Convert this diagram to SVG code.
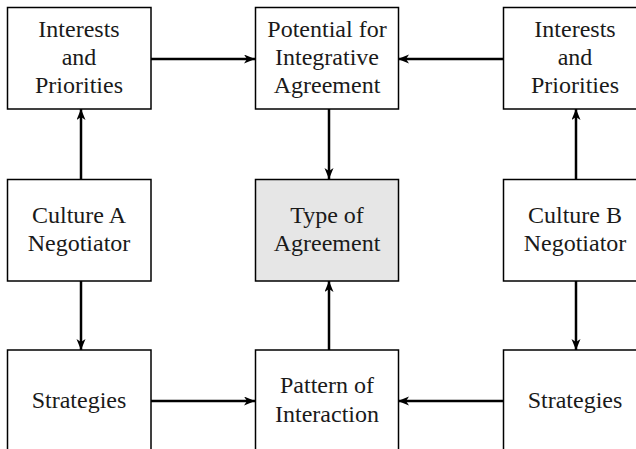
<svg xmlns="http://www.w3.org/2000/svg" width="636" height="449" viewBox="0 0 636 449">
<style>
.box{fill:#fff;stroke:#000;stroke-width:1.5}
.gray{fill:#e6e6e6}
.lbl{font-family:"Liberation Serif","Times New Roman",serif;font-size:24px;fill:#1a1a1a;text-anchor:middle}
.con{stroke:#000;stroke-width:2.5;fill:none;marker-end:url(#ah)}
</style>
<defs>
<marker id="ah" markerUnits="userSpaceOnUse" markerWidth="12" markerHeight="10" refX="11" refY="4.5" orient="auto">
<path d="M0,0 L11,4.5 L0,9 L3,4.5 z" fill="#000"/>
</marker>
</defs>
<rect width="636" height="449" fill="#fff"/>
<g id="connectors">
<line class="con" x1="151" y1="59" x2="255" y2="59"/>
<line class="con" x1="503" y1="59" x2="398" y2="59"/>
<line class="con" x1="329" y1="109" x2="329" y2="179"/>
<line class="con" x1="81" y1="179" x2="81" y2="109"/>
<line class="con" x1="81" y1="281" x2="81" y2="350"/>
<line class="con" x1="576" y1="179" x2="576" y2="109"/>
<line class="con" x1="576" y1="281" x2="576" y2="350"/>
<line class="con" x1="329" y1="350" x2="329" y2="281"/>
<line class="con" x1="151" y1="401" x2="255" y2="401"/>
<line class="con" x1="503" y1="401" x2="398" y2="401"/>
</g>
<g id="interestsA">
<rect class="box" x="7.5" y="7.5" width="143.5" height="101.5"/>
<text class="lbl" x="79" y="37">Interests</text>
<text class="lbl" x="79" y="64.5">and</text>
<text class="lbl" x="79" y="93">Priorities</text>
</g>
<g id="potential">
<rect class="box" x="255.5" y="7.5" width="143" height="101.5"/>
<text class="lbl" x="327" y="37">Potential for</text>
<text class="lbl" x="327" y="64.5">Integrative</text>
<text class="lbl" x="327" y="93">Agreement</text>
</g>
<g id="interestsB">
<rect class="box" x="503.5" y="7.5" width="144" height="101.5"/>
<text class="lbl" x="575" y="37">Interests</text>
<text class="lbl" x="575" y="64.5">and</text>
<text class="lbl" x="575" y="93">Priorities</text>
</g>
<g id="cultureA">
<rect class="box" x="7.5" y="179.5" width="143.5" height="101.5"/>
<text class="lbl" x="79" y="222.5">Culture A</text>
<text class="lbl" x="79" y="251">Negotiator</text>
</g>
<g id="typeAgreement">
<rect class="box gray" x="255.5" y="179.5" width="143" height="101.5"/>
<text class="lbl" x="327" y="222.5">Type of</text>
<text class="lbl" x="327" y="251">Agreement</text>
</g>
<g id="cultureB">
<rect class="box" x="503.5" y="179.5" width="144" height="101.5"/>
<text class="lbl" x="575" y="222.5">Culture B</text>
<text class="lbl" x="575" y="251">Negotiator</text>
</g>
<g id="strategiesA">
<rect class="box" x="7.5" y="350" width="143.5" height="102"/>
<text class="lbl" x="79" y="408">Strategies</text>
</g>
<g id="pattern">
<rect class="box" x="255.5" y="350" width="143" height="102"/>
<text class="lbl" x="327" y="393">Pattern of</text>
<text class="lbl" x="327" y="422">Interaction</text>
</g>
<g id="strategiesB">
<rect class="box" x="503.5" y="350" width="144" height="102"/>
<text class="lbl" x="575" y="408">Strategies</text>
</g>
</svg>
